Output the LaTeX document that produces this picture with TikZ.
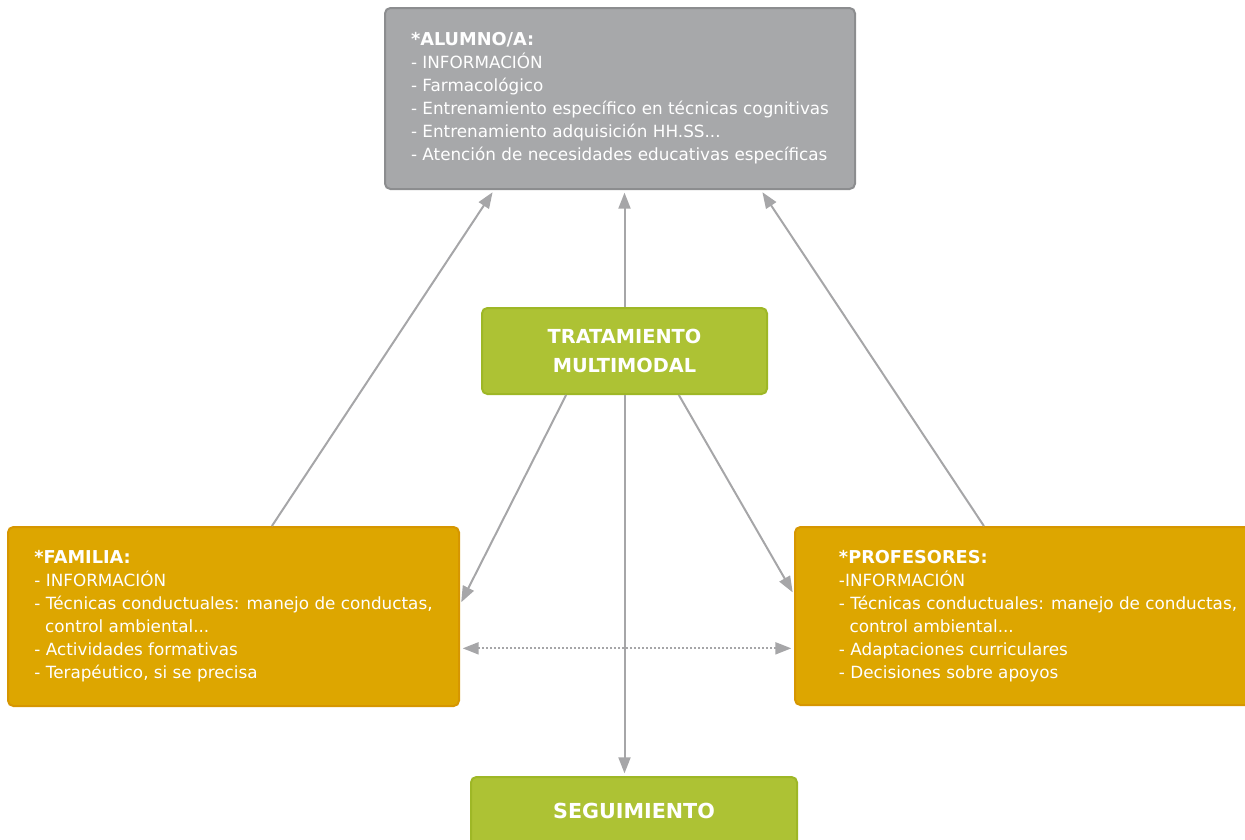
\documentclass[tikz,border=0pt]{standalone}
\usepackage{fontspec}
\setmainfont{DejaVu Sans}
\usetikzlibrary{arrows.meta}
\definecolor{grisfondo}{RGB}{167,168,170}
\definecolor{grisborde}{RGB}{140,141,143}
\definecolor{verdefondo}{RGB}{173,194,52}
\definecolor{verdeborde}{RGB}{158,183,38}
\definecolor{naranjafondo}{RGB}{221,166,0}
\definecolor{naranjaborde}{RGB}{214,150,0}
\definecolor{flecha}{RGB}{166,166,168}
\begin{document}
\begin{tikzpicture}[x=0.75pt, y=-0.75pt,
  caja/.style={draw, rounded corners=4pt, line width=1.5pt, text=white, align=left, inner sep=0pt,
    font=\fontsize{12.6}{17.25}\selectfont},
  titulo/.style={draw, rounded corners=4pt, line width=1.5pt, text=white, align=center, inner sep=0pt,
    font=\bfseries\fontsize{14.5}{21.5}\selectfont}]
\tikzset{every path/.append style={line width=1.5pt}}
\useasboundingbox (0,0) rectangle (1245,839);

\node[caja, fill=grisfondo, draw=grisborde, minimum width=352.5pt, minimum height=135.75pt] (alumno) at (620,98.5)
  {{\bfseries\fontsize{13.3}{17.25}\selectfont *ALUMNO/A:}\\
   - INFORMACIÓN\\
   - Farmacológico\\
   - Entrenamiento específico en técnicas cognitivas\\
   - Entrenamiento adquisición HH.SS...\\
   - Atención de necesidades educativas específicas};
\node[titulo, fill=verdefondo, draw=verdeborde, minimum width=213.75pt, minimum height=64.5pt] (trat) at (624.5,351)
  {TRATAMIENTO\\MULTIMODAL};
\node[caja, fill=naranjafondo, draw=naranjaborde, minimum width=338.25pt, minimum height=134.25pt] (fam) at (233.5,616.5)
  {{\bfseries\fontsize{13.3}{17.25}\selectfont *FAMILIA:}\\
   - INFORMACIÓN\\
   - Técnicas conductuales: manejo de conductas,\\
   \ \ control ambiental...\\
   - Actividades formativas\\
   - Terapéutico, si se precisa};
\node[caja, fill=naranjafondo, draw=naranjaborde, minimum width=364.5pt, minimum height=133.5pt] (prof) at (1038,616)
  {{\bfseries\fontsize{13.3}{17.25}\selectfont *PROFESORES:}\\
   -INFORMACIÓN\\
   - Técnicas conductuales: manejo de conductas,\\
   \ \ control ambiental...\\
   - Adaptaciones curriculares\\
   - Decisiones sobre apoyos};
\node[titulo, fill=verdefondo, draw=verdeborde, minimum width=244.5pt, minimum height=51pt,
  font=\bfseries\fontsize{15.5}{21.5}\selectfont] (seg) at (634,811)
  {SEGUIMIENTO};

\path[->, >={Triangle[length=12pt, width=9pt]}, color=flecha, shorten >=2pt]
(fam.67)    edge (alumno.216)
(trat.north) edge (trat.north |- alumno.south)
(prof.121)  edge (alumno.327)
(trat.217)  edge (fam.3)
(trat.321)  edge (prof.175)
(trat.south) edge (trat.south |- seg.north)
;
% linea punteada entre familia y profesores
\draw[<->, >={Triangle[length=12pt, width=9pt]}, color=flecha, dash pattern=on 1.5pt off 1.5pt, shorten <=2pt, shorten >=2pt]
  (fam.352) -- (fam.352 -| prof.west);
\end{tikzpicture}
\end{document}
